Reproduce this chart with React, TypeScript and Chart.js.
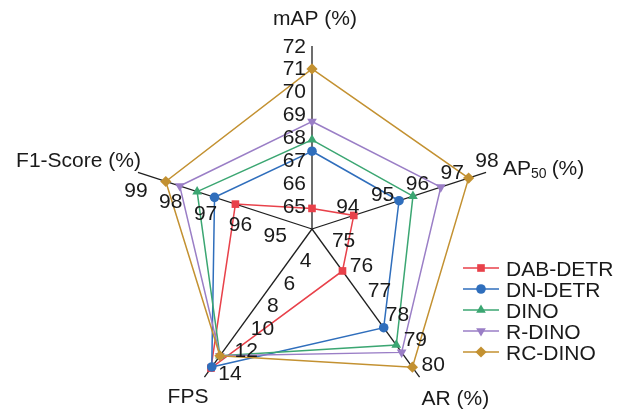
import { useEffect, useRef } from "react";
import { Chart, registerables } from "chart.js";

Chart.register(...registerables);

// Radar axes, clockwise from the top, each with its own value range
const axisNames = ["mAP (%)", "AP50 (%)", "AR (%)", "FPS", "F1-Score (%)"];
const axisMin = [64, 93, 74, 2, 94];
const axisMax = [72, 98, 80, 15.2, 99];

const mapTicks = [65, 66, 67, 68, 69, 70, 71, 72];
const ap50Ticks = [94, 95, 96, 97, 98];
const arTicks = [75, 76, 77, 78, 79, 80];
const fpsTicks = [4, 6, 8, 10, 12, 14];
const f1Ticks = [95, 96, 97, 98, 99];
const axisTicks = [mapTicks, ap50Ticks, arTicks, fpsTicks, f1Ticks];

// Model results: mAP, AP50, AR, FPS, F1-Score
const models = ["DAB-DETR", "DN-DETR", "DINO", "R-DINO", "RC-DINO"];
const dabDetr = [64.9, 94.2, 75.7, 14.4, 96.2];
const dnDetr = [67.4, 95.5, 78.0, 14.3, 96.8];
const dino = [67.9, 95.9, 78.7, 13.3, 97.3];
const rDino = [68.7, 96.7, 79.0, 13.3, 97.8];
const rcDino = [71.0, 97.5, 79.6, 13.3, 98.2];
const modelValues = [dabDetr, dnDetr, dino, rDino, rcDino];

const colors = ["#E8414A", "#2F6EBC", "#3BA672", "#9A7EC6", "#C39131"];
const markers = ["rect", "circle", "triangle", "triangle", "rectRot"];
const markerRotation = [0, 0, 0, 180, 0];
const markerRadius = [5.4, 4.8, 5.6, 5.6, 5.6];

const FONT = '"Liberation Sans", Arial, Helvetica, sans-serif';
const FS = 21;

function text(
  ctx: CanvasRenderingContext2D,
  s: string,
  x: number,
  cy: number,
  align: CanvasTextAlign,
  size = FS
) {
  ctx.font = `${size}px ${FONT}`;
  ctx.textAlign = align;
  ctx.textBaseline = "alphabetic";
  ctx.fillStyle = "#1a1a1a";
  ctx.fillText(s, x, cy + 0.358 * size);
}

function marker(ctx: CanvasRenderingContext2D, i: number, x: number, y: number) {
  const r = markerRadius[i];
  ctx.fillStyle = colors[i];
  ctx.beginPath();
  const style = markers[i];
  if (style === "rect") {
    const h = r * Math.SQRT1_2;
    ctx.rect(x - h, y - h, 2 * h, 2 * h);
  } else if (style === "circle") {
    ctx.arc(x, y, r, 0, Math.PI * 2);
  } else if (style === "triangle") {
    const dir = markerRotation[i] === 180 ? -1 : 1;
    ctx.moveTo(x, y - dir * r);
    ctx.lineTo(x + r * Math.sin((2 * Math.PI) / 3), y + dir * r * 0.5);
    ctx.lineTo(x - r * Math.sin((2 * Math.PI) / 3), y + dir * r * 0.5);
    ctx.closePath();
  } else {
    ctx.moveTo(x - r, y);
    ctx.lineTo(x, y - r);
    ctx.lineTo(x + r, y);
    ctx.lineTo(x, y + r);
    ctx.closePath();
  }
  ctx.fill();
}

// Where each axis puts its tick numbers relative to the tick point
const tickAlign: CanvasTextAlign[] = ["right", "center", "left", "left", "center"];
const tickDx = [-6, 1, 2, 4, -2];
const tickDy = [-1, -12.5, -14, 8.5, 17];

const axisLabelsPlugin = {
  id: "axisLabels",
  afterDraw(chart: any) {
    const ctx: CanvasRenderingContext2D = chart.ctx;
    const scale = chart.scales.r;
    ctx.save();

    axisTicks.forEach((ticks, i) => {
      ticks.forEach((t) => {
        const norm = (t - axisMin[i]) / (axisMax[i] - axisMin[i]);
        const d = scale.getDistanceFromCenterForValue(norm);
        const p = scale.getPointPosition(i, d);
        text(ctx, String(t), p.x + tickDx[i], p.y + tickDy[i], tickAlign[i]);
      });
    });

    const ends = axisNames.map((_, i) => scale.getPointPosition(i, scale.drawingArea));

    // mAP (%)
    text(ctx, axisNames[0], ends[0].x + 3, ends[0].y - 29, "center");

    // AP50 (%) with subscript
    {
      const x0 = ends[1].x + 17;
      const cy = ends[1].y - 5;
      ctx.font = `${FS}px ${FONT}`;
      const wAP = ctx.measureText("AP").width;
      text(ctx, "AP", x0, cy, "left");
      text(ctx, "50", x0 + wAP, cy + 6, "left", 14);
      ctx.font = `14px ${FONT}`;
      const wSub = ctx.measureText("50").width;
      text(ctx, "(%)", x0 + wAP + wSub + 5, cy, "left");
    }

    // AR (%)
    text(ctx, axisNames[2], ends[2].x + 2, ends[2].y + 20, "left");
    // FPS
    text(ctx, axisNames[3], ends[3].x + 4, ends[3].y + 18, "right");
    // F1-Score (%)
    text(ctx, axisNames[4], ends[4].x + 3, ends[4].y - 13, "right");

    // Legend
    models.forEach((name, i) => {
      const y = 268 + 21 * i;
      ctx.strokeStyle = colors[i];
      ctx.lineWidth = 1.5;
      ctx.beginPath();
      ctx.moveTo(463, y);
      ctx.lineTo(499, y);
      ctx.stroke();
      marker(ctx, i, 481, y);
      text(ctx, name, 506, y, "left");
    });

    ctx.restore();
  },
};

export default function App() {
  const canvasRef = useRef<HTMLCanvasElement | null>(null);

  useEffect(() => {
    const canvas = canvasRef.current;
    if (!canvas) return;

    const datasets = models.map((name, k) => ({
      label: name,
      data: modelValues[k].map((v, i) => (v - axisMin[i]) / (axisMax[i] - axisMin[i])),
      borderColor: colors[k],
      backgroundColor: colors[k],
      borderWidth: 1.5,
      fill: false,
      pointStyle: markers[k] as any,
      pointRotation: markerRotation[k],
      pointRadius: markerRadius[k],
      pointBackgroundColor: colors[k],
      pointBorderColor: colors[k],
      pointBorderWidth: 0,
      order: models.length - 1 - k,
    }));

    const chart = new Chart(canvas, {
      type: "radar",
      data: { labels: axisNames, datasets },
      options: {
        responsive: false,
        animation: false,
        devicePixelRatio: 1,
        layout: { padding: { left: 129, right: 131, top: 46, bottom: 8 } },
        plugins: { legend: { display: false }, tooltip: { enabled: false } },
        scales: {
          r: {
            min: 0,
            max: 1,
            ticks: { display: false },
            grid: { display: false },
            angleLines: { display: true, color: "#1f1f1f", lineWidth: 1.3 },
            pointLabels: { display: false },
          },
        },
        elements: { line: { tension: 0 } },
      },
      plugins: [axisLabelsPlugin],
    });

    return () => chart.destroy();
  }, []);

  return (
    <div
      style={{
        position: "fixed",
        left: 0,
        top: 0,
        width: 626,
        height: 411,
        overflow: "hidden",
        background: "#ffffff",
      }}
    >
      <canvas ref={canvasRef} width={626} height={420} style={{ width: 626, height: 420, display: "block" }} />
    </div>
  );
}
